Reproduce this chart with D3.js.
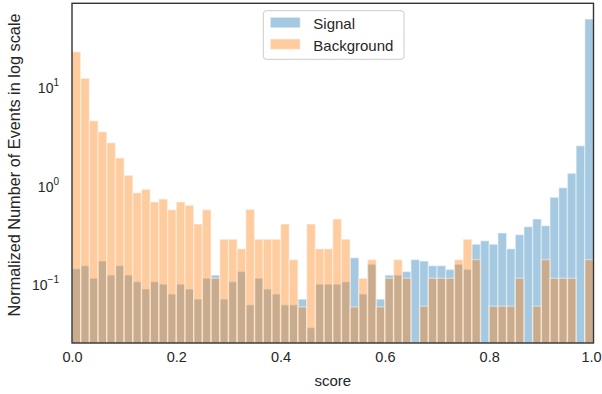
<!DOCTYPE html>
<html>
<head>
<meta charset="utf-8">
<script src="https://cdn.jsdelivr.net/npm/d3@7"></script>
<style>
  html, body { margin: 0; padding: 0; background: #fff; }
  svg text { font-family: "Liberation Sans", Arial, sans-serif; fill: #262626; }
</style>
</head>
<body>
<svg id="chart" width="602" height="394"></svg>
<script>
// Normalized score histograms, 60 equal-width bins over [0, 1]
const binCount = 60;
const signal = [
  0.146, 0.157, 0.117, 0.175, 0.126, 0.157, 0.126, 0.108, 0.091, 0.108,
  0.102, 0.081, 0.102, 0.091, 0.072, 0.117, 0.126, 0.072, 0.108, 0.137,
  0.063, 0.117, 0.091, 0.081, 0.063, 0.063, 0.072, 0.037, 0.102, 0.102,
  0.102, 0.108, 0.189, 0.081, 0.162, 0.072, 0.126, 0.126, 0.137, 0.181,
  0.175, 0.157, 0.157, 0.144, 0.162, 0.144, 0.259, 0.281, 0.259, 0.337,
  0.233, 0.324, 0.390, 0.467, 0.399, 0.774, 0.968, 1.354, 2.577, 49.45
];
const background = [
  23.07, 12.41, 4.617, 3.572, 2.764, 1.935, 1.292, 0.861, 0.932, 0.694,
  0.744, 0.580, 0.694, 0.642, 0.415, 0.580, 0.117, 0.291, 0.291, 0.233,
  0.585, 0.291, 0.291, 0.291, 0.415, 0.181, 0.060, 0.415, 0.233, 0.233,
  0.467, 0.291, 0.060, 0.117, 0.181, 0.060, 0.117, 0.181, 0.117, 0,
  0.061, 0.117, 0.117, 0.117, 0.181, 0.291, 0.181, 0, 0.061, 0.061,
  0.061, 0.117, 0, 0.061, 0.181, 0.117, 0.117, 0.117, 0, 0.181
];
const seriesNames = ["Signal", "Background"];
const seriesColors = ["#1f77b4", "#ff7f0e"];
const xTicks = [0, 0.2, 0.4, 0.6, 0.8, 1.0];
const yTicks = [0.1, 1, 10];
const yExponents = ["\u22121", "0", "1"];

const svg = d3.select("#chart");
const plot = { left: 72, right: 593.5, top: 3.3, bottom: 343 };

const x = d3.scaleLinear().domain([0, 1]).range([plot.left, plot.right]);
const y = d3.scaleLog().domain([0.02588, 71.33]).range([plot.bottom, plot.top]);

svg.append("defs").append("clipPath").attr("id", "plot-clip")
  .append("rect")
  .attr("x", plot.left).attr("y", plot.top)
  .attr("width", plot.right - plot.left).attr("height", plot.bottom - plot.top);

const edges = d3.range(binCount + 1).map(i => i / binCount);

function drawHist(values, color) {
  const bars = values.map((v, i) => ({ x0: edges[i], x1: edges[i + 1], v }))
    .filter(d => d.v > 0);
  svg.append("g").attr("clip-path", "url(#plot-clip)")
    .selectAll("rect").data(bars).join("rect")
    .attr("x", d => x(d.x0))
    .attr("width", d => x(d.x1) - x(d.x0))
    .attr("y", d => y(d.v))
    .attr("height", d => plot.bottom + 5 - y(d.v))
    .attr("fill", color).attr("fill-opacity", 0.4)
    .attr("stroke", "#fff").attr("stroke-opacity", 0.4).attr("stroke-width", 1.4);
}
drawHist(signal, seriesColors[0]);
drawHist(background, seriesColors[1]);

// Axes (no tick marks, labels only)
const xAxis = svg.append("g")
  .attr("transform", `translate(0,${plot.bottom})`)
  .call(d3.axisBottom(x).tickValues(xTicks).tickFormat(d3.format(".1f")).tickSize(0).tickPadding(9));
xAxis.select(".domain").remove();
xAxis.selectAll("text").style("font-size", "14.5px").attr("fill", "#262626");
// keep the last label inside the canvas
xAxis.selectAll(".tick").filter(d => d === 1).select("text").attr("dx", "-2.5");

const yAxis = svg.append("g")
  .attr("transform", `translate(${plot.left},0)`)
  .call(d3.axisLeft(y).tickValues(yTicks).tickFormat(() => "").tickSize(0).tickPadding(13));
yAxis.select(".domain").remove();
yAxis.selectAll(".tick text").each(function (d, i) {
  const t = d3.select(this).style("font-size", "14px").attr("fill", "#262626").attr("dy", "0.35em");
  t.text("10");
  t.append("tspan").text(yExponents[i]).style("font-size", "10px").attr("dy", "-0.7em");
});

// Frame
svg.append("rect")
  .attr("x", plot.left).attr("y", plot.top)
  .attr("width", plot.right - plot.left).attr("height", plot.bottom - plot.top)
  .attr("fill", "none").attr("stroke", "#333").attr("stroke-width", 1.4);

// Axis titles
svg.append("text")
  .attr("x", (plot.left + plot.right) / 2).attr("y", 386)
  .attr("text-anchor", "middle").style("font-size", "15px")
  .text("score");
svg.append("text")
  .attr("transform", "translate(20,165) rotate(-90)")
  .attr("text-anchor", "middle").style("font-size", "16.3px")
  .text("Normalized Number of Events in log scale");

// Legend
const lg = svg.append("g").attr("transform", "translate(263.3,10.7)");
lg.append("rect").attr("width", 140.7).attr("height", 48.6).attr("rx", 3)
  .attr("fill", "#fff").attr("fill-opacity", 0.8)
  .attr("stroke", "#ccc").attr("stroke-width", 1);
seriesNames.forEach((name, i) => {
  const row = lg.append("g").attr("transform", `translate(0,${i * 21.6})`);
  row.append("rect").attr("x", 7).attr("y", 6.6).attr("width", 30).attr("height", 10.5)
    .attr("fill", seriesColors[i]).attr("fill-opacity", 0.4)
    .attr("stroke", "#fff").attr("stroke-opacity", 0.4).attr("stroke-width", 1.4);
  row.append("text").attr("x", 50).attr("y", 18.5).style("font-size", "15px").text(name);
});
</script>
</body>
</html>
